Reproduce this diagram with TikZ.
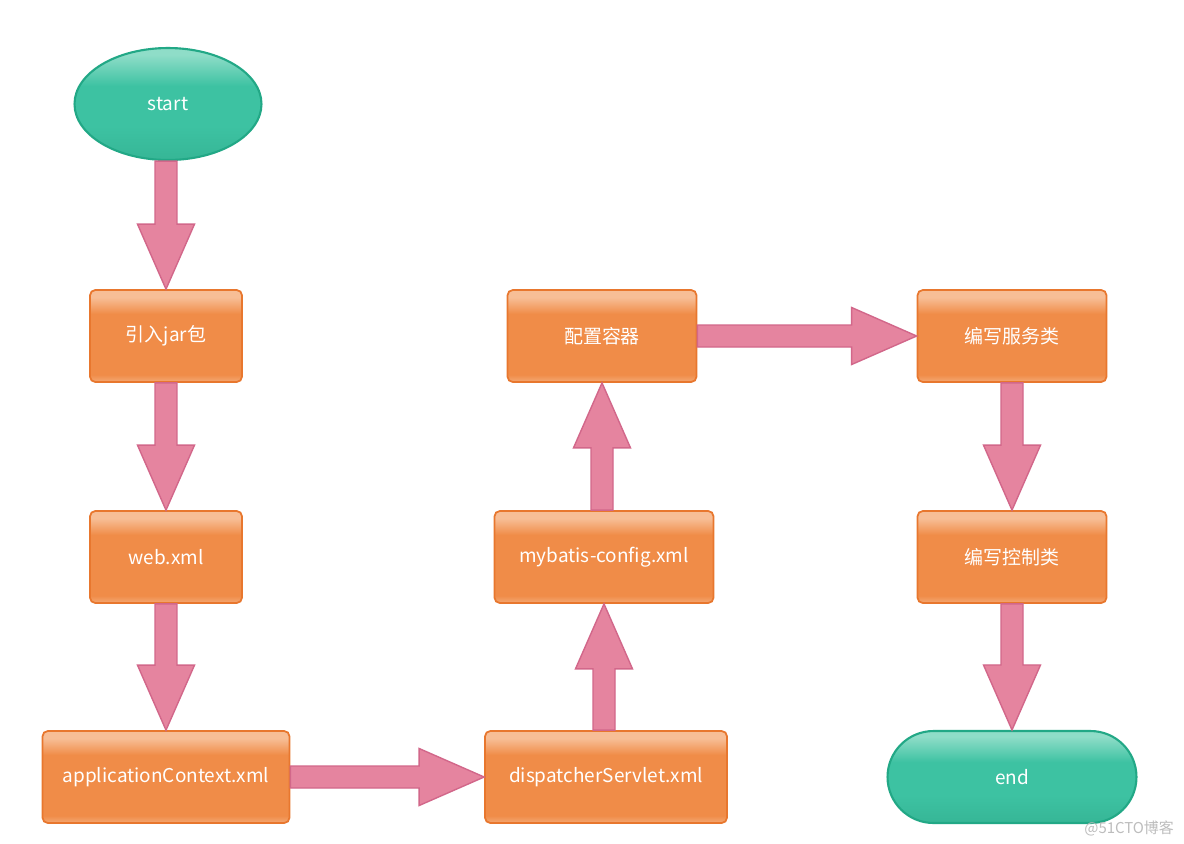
\documentclass[tikz,border=0pt]{standalone}
\usepackage{fontspec}
\newfontfamily\cjk{Noto Sans CJK SC}
\usetikzlibrary{calc,shapes.geometric}
\definecolor{boxfill}{HTML}{F08C48}
\definecolor{boxtop}{HTML}{F7BE96}
\definecolor{boxbot}{HTML}{F4A874}
\definecolor{boxline}{HTML}{E8772E}
\definecolor{tealfill}{HTML}{3DC2A2}
\definecolor{tealtop}{HTML}{8FDDC8}
\definecolor{tealbot}{HTML}{36B696}
\definecolor{tealline}{HTML}{22A886}
\definecolor{pinkfill}{HTML}{E5849F}
\definecolor{pinkline}{HTML}{D2678A}
\definecolor{wm}{HTML}{BDBDBD}
\pgfdeclareverticalshading{boxshade}{100bp}{color(0bp)=(boxbot); color(25bp)=(boxbot); color(29bp)=(boxfill); color(62bp)=(boxfill); color(71bp)=(boxtop); color(75bp)=(boxtop); color(100bp)=(boxtop)}
\pgfdeclareverticalshading{tealshade}{100bp}{color(0bp)=(tealbot); color(25bp)=(tealbot); color(40bp)=(tealfill); color(58bp)=(tealfill); color(72bp)=(tealtop); color(75bp)=(tealtop); color(100bp)=(tealtop)}
\tikzset{
  box/.style={draw=boxline, line width=1pt, rounded corners=3pt, shading=boxshade,
    text=white, font=\cjk\fontsize{10.8}{12}\selectfont, minimum height=1.84cm, inner sep=0pt},
  term/.style={draw=tealline, line width=1.2pt, shading=tealshade,
    text=white, font=\cjk\fontsize{10.8}{12}\selectfont, inner sep=0pt},
  arrowstyle/.style={draw=pinkline, line width=0.8pt, fill=pinkfill, line join=miter},
}
\newcommand\barrow[3][]{%
  \path ($(#3)!1.3cm!(#2)$) coordinate (bh);
  \draw[arrowstyle,#1] ($(#2)!0.22cm!90:(#3)$) -- ($(bh)!0.22cm!90:(#3)$) -- ($(bh)!0.57cm!90:(#3)$) -- (#3) -- ($(bh)!0.57cm!-90:(#3)$) -- ($(bh)!0.22cm!-90:(#3)$) -- ($(#2)!0.22cm!-90:(#3)$) -- cycle;}
\begin{document}
\begin{tikzpicture}[x=0.02cm,y=-0.02cm]
\fill[white] (0,0) rectangle (1184,843);
\useasboundingbox (0,0) rectangle (1184,843);
\node[term, ellipse, minimum width=3.74cm, minimum height=2.24cm] (s) at (168,104) {start};
\node[box, minimum width=3.04cm] (jar) at (166,336) {引入jar包};
\node[box, minimum width=3.04cm] (web) at (166,557) {web.xml};
\node[box, minimum width=4.94cm] (app) at (166,777) {applicationContext.xml};
\node[box, minimum width=4.84cm] (disp) at (606,777) {dispatcherServlet.xml};
\node[box, minimum width=4.38cm] (myb) at (604,557) {mybatis-config.xml};
\node[box, minimum width=3.78cm] (pz) at (602,336) {配置容器};
\node[box, minimum width=3.78cm] (fw) at (1012,336) {编写服务类};
\node[box, minimum width=3.78cm] (kz) at (1012,557) {编写控制类};
\node[term, rounded corners=0.92cm, minimum width=4.98cm, minimum height=1.84cm] (e) at (1012,777) {end};
\node[font=\cjk\fontsize{8.5}{10}\selectfont, text=wm, anchor=east] (wmk) at (1180,828) {@51CTO博客};
\coordinate (m0) at (s.south -| jar.north);
\coordinate (m1) at (disp.north -| myb.south);
\coordinate (m2) at (myb.north -| pz.south);
\barrow{m0}{jar.north}
\barrow{jar.south}{web.north}
\barrow{web.south}{app.north}
\barrow{app.east}{disp.west}
\barrow{m1}{myb.south}
\barrow{m2}{pz.south}
\barrow{pz.east}{fw.west}
\barrow{fw.south}{kz.north}
\barrow{kz.south}{e.north}
\end{tikzpicture}
\end{document}
